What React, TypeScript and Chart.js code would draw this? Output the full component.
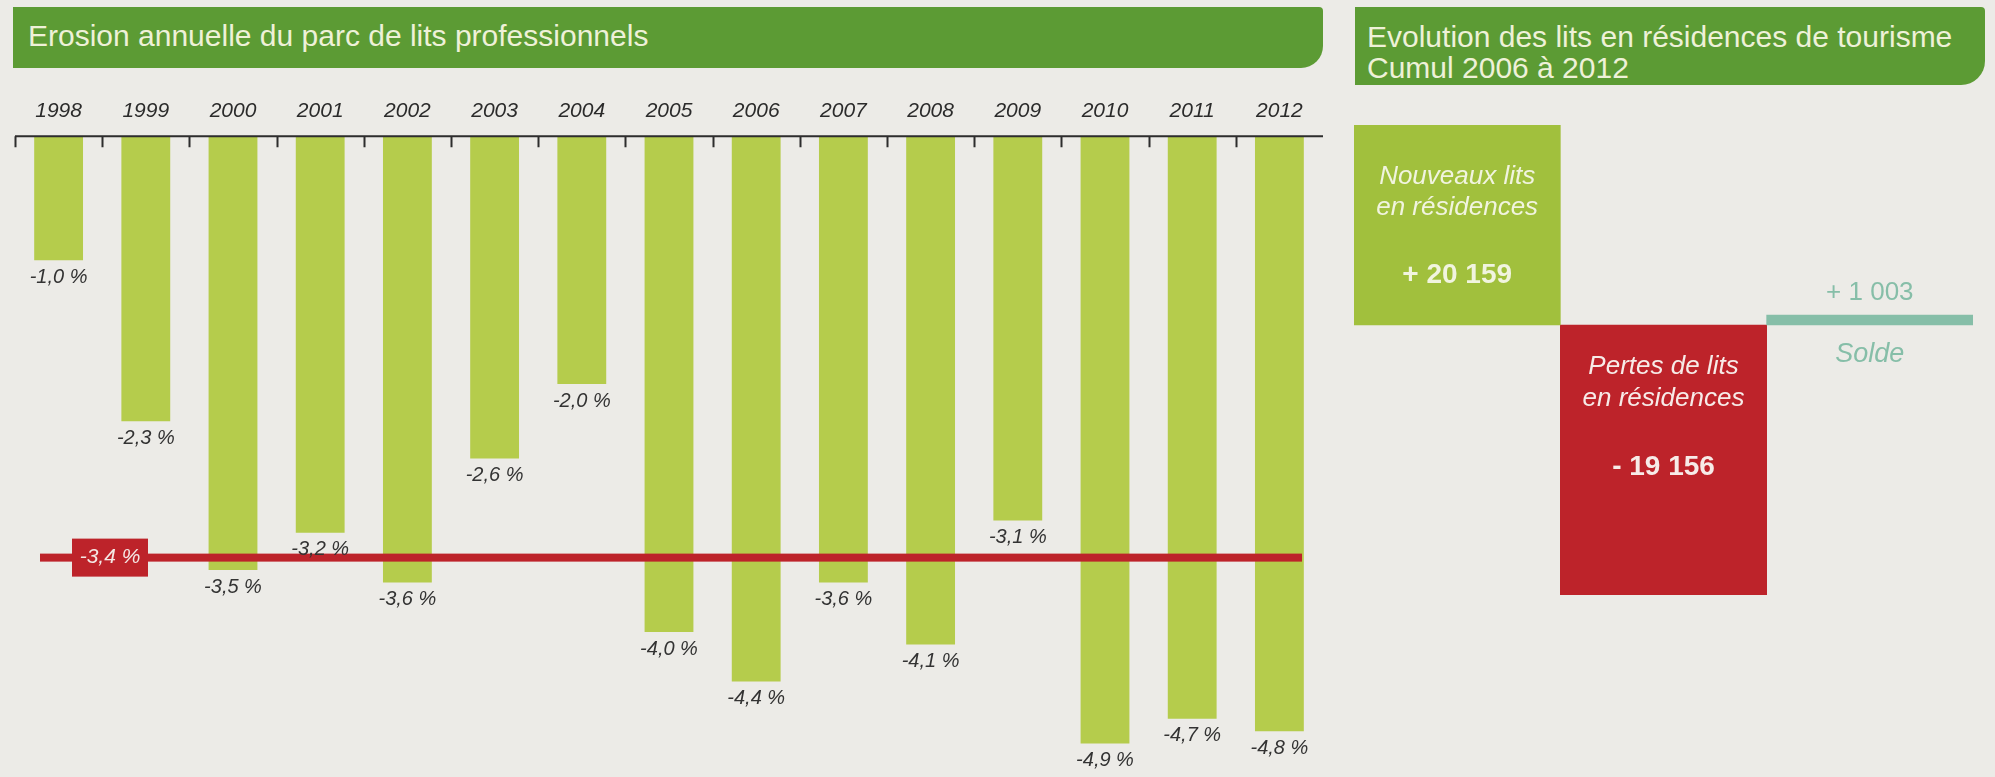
import React, { useEffect, useRef } from 'react';
import { Chart, registerables } from 'chart.js';

Chart.register(...registerables);

// ---------- data ----------
const years = ['1998', '1999', '2000', '2001', '2002', '2003', '2004', '2005', '2006', '2007', '2008', '2009', '2010', '2011', '2012'];
const erosionValues = [-1.0, -2.3, -3.5, -3.2, -3.6, -2.6, -2.0, -4.0, -4.4, -3.6, -4.1, -3.1, -4.9, -4.7, -4.8];
const averageErosion = -3.4;

const residenceCategories = ['Nouveaux lits en résidences', 'Pertes de lits en résidences', 'Solde'];
const residenceValues = [20159, -19156, 1003];
const residenceLabelLines = [['Nouveaux lits', 'en résidences'], ['Pertes de lits', 'en résidences'], ['Solde']];

const leftTitle = 'Erosion annuelle du parc de lits professionnels';
const rightTitleLines = ['Evolution des lits en résidences de tourisme', 'Cumul 2006 à 2012'];

// ---------- styles ----------
const FONT = '"Liberation Sans", Arial, Helvetica, sans-serif';
const NARROW = '"Liberation Sans Narrow", "Liberation Sans", Arial, sans-serif';
const PAPER = '#ecebe7';
const BANNER = '#5c9b34';
const BANNER_TEXT = '#eef1d8';
const BAR = '#b5cc4c';
const RED = '#bd232a';
const GAIN = '#a1c03d';
const TEAL = '#86bea8';

const fmtPct = (v: number) => v.toFixed(1).replace('.', ',') + ' %';
const fmtCount = (v: number) =>
  (v >= 0 ? '+ ' : '- ') + String(Math.abs(v)).replace(/\B(?=(\d{3})+(?!\d))/g, ' ');

const leftDecor = {
  id: 'leftDecor',
  afterDatasetsDraw(chart: any) {
    const { ctx, chartArea, scales } = chart;
    const xs = scales.x;
    const ys = scales.y;
    ctx.save();
    // axis line + ticks
    ctx.strokeStyle = '#2d2d2d';
    ctx.lineWidth = 2;
    ctx.beginPath();
    ctx.moveTo(chartArea.left, chartArea.top);
    ctx.lineTo(chartArea.right, chartArea.top);
    const cat = xs.getPixelForValue(1) - xs.getPixelForValue(0);
    for (let i = 0; i < years.length; i++) {
      const x = Math.round(xs.getPixelForValue(i) - cat / 2) + 0.5;
      ctx.moveTo(x, chartArea.top);
      ctx.lineTo(x, chartArea.top + 11);
    }
    ctx.stroke();

    // average line
    const y = ys.getPixelForValue(averageErosion);
    ctx.fillStyle = RED;
    ctx.fillRect(chartArea.left + 25, y - 4, chartArea.right - 21 - (chartArea.left + 25), 8);
    const bx = chartArea.left + 95;
    ctx.fillRect(bx - 38, y - 19, 76, 38);
    ctx.textAlign = 'center';
    ctx.textBaseline = 'middle';
    ctx.fillStyle = '#f4e7e4';
    ctx.font = `italic 21px ${NARROW}`;
    ctx.fillText(fmtPct(averageErosion), bx, y);

    // value labels
    const meta = chart.getDatasetMeta(0);
    ctx.fillStyle = '#333333';
    ctx.font = `italic 20px ${NARROW}`;
    meta.data.forEach((el: any, i: number) => {
      const bottom = Math.max(el.y, el.base);
      ctx.fillText(fmtPct(erosionValues[i]), el.x, bottom + 17);
    });
    ctx.restore();
  },
};

const rightDecor = {
  id: 'rightDecor',
  afterDatasetsDraw(chart: any) {
    const { ctx } = chart;
    const gains = chart.getDatasetMeta(0).data;
    const losses = chart.getDatasetMeta(1).data;
    ctx.save();
    ctx.textAlign = 'center';
    ctx.textBaseline = 'middle';

    // green box
    const g = gains[0];
    const gTop = Math.min(g.y, g.base);
    ctx.fillStyle = '#f1f4df';
    ctx.font = `italic 26px ${FONT}`;
    residenceLabelLines[0].forEach((t, k) => ctx.fillText(t, g.x, gTop + 52 + k * 31));
    ctx.font = `bold 28px ${NARROW}`;
    ctx.fillText(fmtCount(residenceValues[0]), g.x, gTop + 150);

    // red box
    const r = losses[1];
    const rTop = Math.min(r.y, r.base);
    ctx.fillStyle = '#f7ebe8';
    ctx.font = `italic 26px ${FONT}`;
    residenceLabelLines[1].forEach((t, k) => ctx.fillText(t, r.x, rTop + 42 + k * 32));
    ctx.font = `bold 28px ${NARROW}`;
    ctx.fillText(fmtCount(residenceValues[1]), r.x, rTop + 142);

    // solde
    const s = gains[2];
    const sTop = Math.min(s.y, s.base);
    const sBot = Math.max(s.y, s.base);
    ctx.fillStyle = TEAL;
    ctx.font = `26px ${FONT}`;
    ctx.fillText(fmtCount(residenceValues[2]), s.x, sTop - 22);
    ctx.font = `italic 27px ${FONT}`;
    ctx.fillText(residenceLabelLines[2][0], s.x, sBot + 29);
    ctx.restore();
  },
};

export default function App() {
  const leftRef = useRef<HTMLCanvasElement>(null);
  const rightRef = useRef<HTMLCanvasElement>(null);

  useEffect(() => {
    const left = new Chart(leftRef.current as HTMLCanvasElement, {
      type: 'bar',
      data: {
        labels: years,
        datasets: [
          {
            label: 'Erosion annuelle',
            data: erosionValues,
            backgroundColor: BAR,
            borderWidth: 0,
            barPercentage: 0.56,
            categoryPercentage: 1,
          },
        ],
      },
      options: {
        responsive: false,
        animation: false,
        layout: { padding: { left: 15, right: 17, top: 95, bottom: 0 } },
        plugins: { legend: { display: false }, tooltip: { enabled: false } },
        scales: {
          x: {
            position: 'top',
            grid: { display: false },
            border: { display: false },
            ticks: {
              color: '#2b2b2b',
              font: { family: NARROW, size: 21, style: 'italic' },
              padding: 4,
              maxRotation: 0,
              autoSkip: false,
            },
          },
          y: { display: false, min: -5.17, max: 0 },
        },
      },
      plugins: [leftDecor],
    } as any);

    const gainMax = Math.max(...residenceValues);
    const lossMin = Math.min(...residenceValues);
    const right = new Chart(rightRef.current as HTMLCanvasElement, {
      type: 'bar',
      data: {
        labels: residenceCategories,
        datasets: [
          {
            label: 'Gains',
            data: residenceValues.map((v) => (v > 0 ? [0, v] : null)),
            backgroundColor: [GAIN, 'rgba(0,0,0,0)', TEAL],
            yAxisID: 'yPos',
            grouped: false,
            barPercentage: 1,
            categoryPercentage: 1,
            borderWidth: 0,
          },
          {
            label: 'Pertes',
            data: residenceValues.map((v) => (v < 0 ? [v, 0] : null)),
            backgroundColor: RED,
            yAxisID: 'yNeg',
            grouped: false,
            barPercentage: 1,
            categoryPercentage: 1,
            borderWidth: 0,
          },
        ],
      },
      options: {
        responsive: false,
        animation: false,
        layout: { padding: { left: 14, right: 22, top: 125, bottom: 182 } },
        plugins: { legend: { display: false }, tooltip: { enabled: false } },
        scales: {
          x: { display: false },
          yPos: { display: false, min: -gainMax * 1.35, max: gainMax },
          yNeg: { display: false, min: lossMin, max: -lossMin / 1.35 },
        },
      },
      plugins: [rightDecor],
    } as any);

    return () => {
      left.destroy();
      right.destroy();
    };
  }, []);

  return (
    <div
      style={{
        position: 'fixed',
        left: 0,
        top: 0,
        width: 1995,
        height: 777,
        background: PAPER,
        overflow: 'hidden',
        fontFamily: FONT,
      }}
    >
      <div
        style={{
          position: 'absolute',
          left: 13,
          top: 7,
          width: 1310,
          height: 61,
          background: BANNER,
          borderRadius: '0 4px 22px 0',
          color: BANNER_TEXT,
          fontSize: 30,
          lineHeight: '58px',
          paddingLeft: 15,
          boxSizing: 'border-box',
          whiteSpace: 'nowrap',
        }}
      >
        {leftTitle}
      </div>
      <div
        style={{
          position: 'absolute',
          left: 1355,
          top: 7,
          width: 630,
          height: 78,
          background: BANNER,
          borderRadius: '0 4px 24px 0',
          color: BANNER_TEXT,
          fontSize: 30,
          lineHeight: '31px',
          paddingLeft: 12,
          paddingTop: 14,
          boxSizing: 'border-box',
          whiteSpace: 'nowrap',
        }}
      >
        {rightTitleLines.map((t) => (
          <div key={t}>{t}</div>
        ))}
      </div>
      <canvas
        ref={leftRef}
        width={1340}
        height={777}
        style={{ position: 'absolute', left: 0, top: 0, width: 1340, height: 777 }}
      />
      <canvas
        ref={rightRef}
        width={655}
        height={777}
        style={{ position: 'absolute', left: 1340, top: 0, width: 655, height: 777 }}
      />
    </div>
  );
}
